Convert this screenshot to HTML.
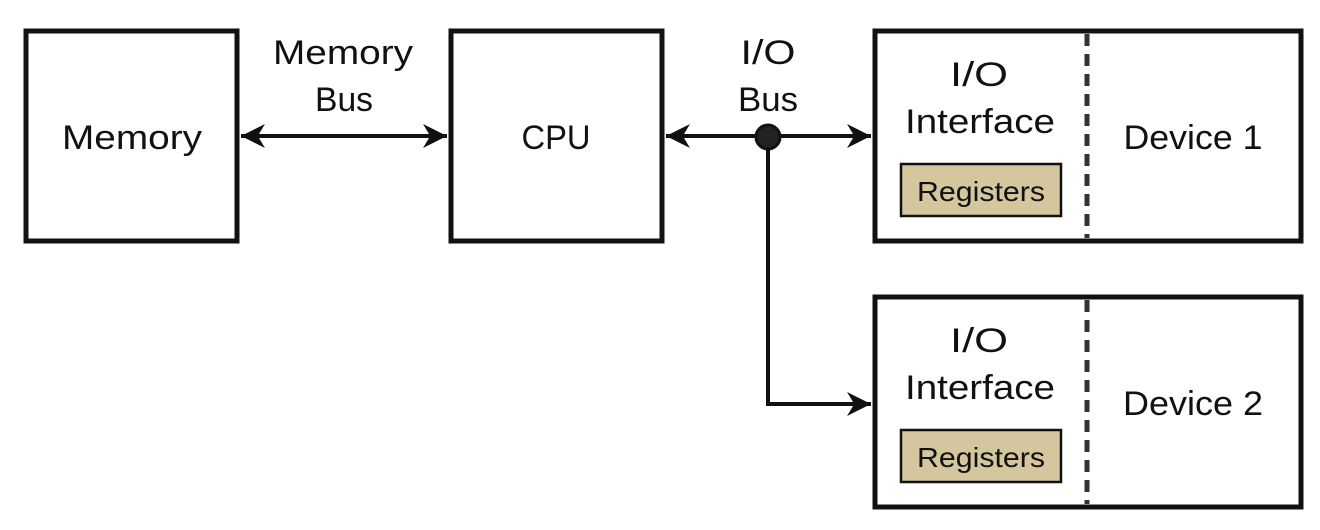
<!DOCTYPE html>
<html><head><meta charset="utf-8"><style>
html,body{margin:0;padding:0;background:#fff;width:1320px;height:530px;overflow:hidden}
text{font-family:"Liberation Sans",sans-serif;fill:#111}
</style></head><body>
<svg width="1320" height="530" viewBox="0 0 1320 530" xmlns="http://www.w3.org/2000/svg">
<defs>
<marker id="a" viewBox="0 0 10 10" refX="10" refY="5" markerWidth="6" markerHeight="6" orient="auto-start-reverse" markerUnits="strokeWidth">
<path d="M0,0 L10,5 L0,10 L3,5 Z" fill="#111"/></marker>
</defs>
<g fill="#fff" stroke="#111" stroke-width="5">
<rect x="26" y="31" width="211" height="210"/>
<rect x="451" y="31" width="211" height="210"/>
<rect x="875" y="31" width="426" height="210"/>
<rect x="875" y="297" width="426" height="210"/>
</g>
<g stroke="#333" stroke-width="5" stroke-dasharray="12,8">
<line x1="1087" y1="34" x2="1087" y2="238"/>
<line x1="1087" y1="300" x2="1087" y2="504"/>
</g>
<g fill="#d4c69d" stroke="#111" stroke-width="2.5">
<rect x="901" y="164" width="160" height="52"/>
<rect x="901" y="430" width="160" height="52"/>
</g>
<g stroke="#111" stroke-width="4" fill="none">
<line x1="241" y1="136" x2="447" y2="136" marker-start="url(#a)" marker-end="url(#a)"/>
<line x1="666" y1="136" x2="871" y2="136" marker-start="url(#a)" marker-end="url(#a)"/>
<polyline points="768,136 768,404 871,404" marker-end="url(#a)"/>
</g>
<circle cx="768" cy="137" r="12" fill="#222" stroke="#111" stroke-width="3"/>
<g font-size="34" text-anchor="middle">
<text x="132" y="149" textLength="140" lengthAdjust="spacingAndGlyphs">Memory</text>
<text x="343" y="64" textLength="140" lengthAdjust="spacingAndGlyphs">Memory</text>
<text x="344" y="111" textLength="58" lengthAdjust="spacingAndGlyphs">Bus</text>
<text x="556" y="149" textLength="69" lengthAdjust="spacingAndGlyphs">CPU</text>
<text x="768" y="64" textLength="55" lengthAdjust="spacingAndGlyphs">I/O</text>
<text x="768" y="111" textLength="60" lengthAdjust="spacingAndGlyphs">Bus</text>
<text x="979" y="86" textLength="58" lengthAdjust="spacingAndGlyphs">I/O</text>
<text x="980" y="133" textLength="150" lengthAdjust="spacingAndGlyphs">Interface</text>
<text x="1193" y="149" textLength="139" lengthAdjust="spacingAndGlyphs">Device 1</text>
<text x="979" y="352" textLength="58" lengthAdjust="spacingAndGlyphs">I/O</text>
<text x="980" y="399" textLength="150" lengthAdjust="spacingAndGlyphs">Interface</text>
<text x="1193" y="415" textLength="140" lengthAdjust="spacingAndGlyphs">Device 2</text>
</g>
<g font-size="28" text-anchor="middle">
<text x="981" y="201" textLength="128" lengthAdjust="spacingAndGlyphs">Registers</text>
<text x="981" y="467" textLength="128" lengthAdjust="spacingAndGlyphs">Registers</text>
</g>
</svg>
</body></html>
